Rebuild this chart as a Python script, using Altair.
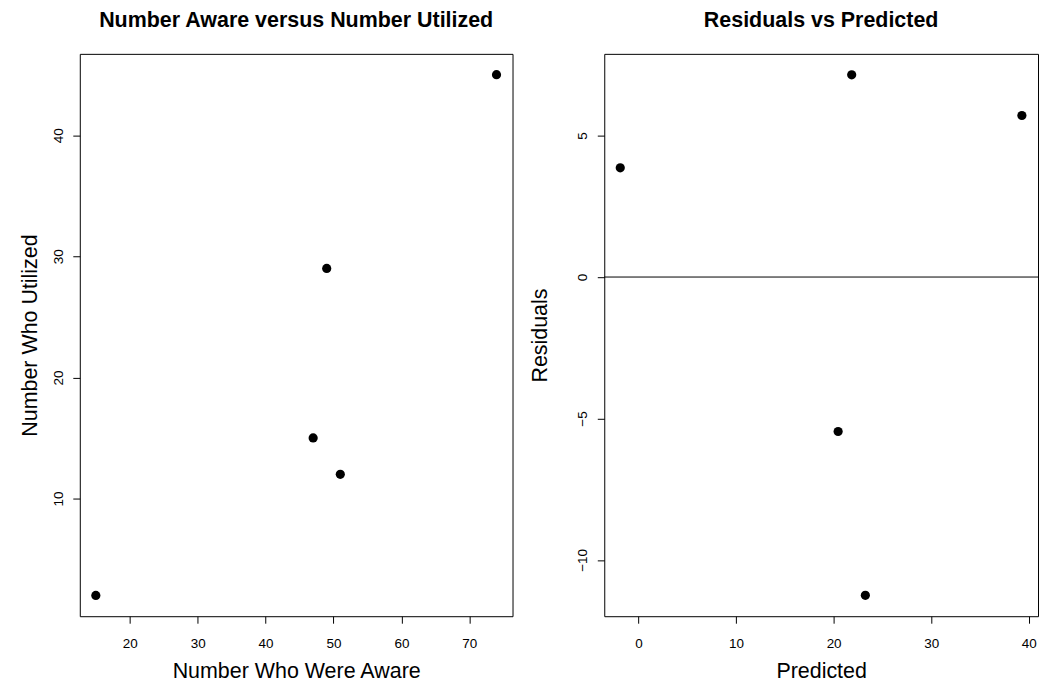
import altair as alt
import pandas as pd

# Left panel: awareness vs utilisation
aware = [15, 47, 49, 51, 74]
utilized = [2, 15, 29, 12, 45]

# Right panel: residuals vs predicted
predicted = [-1.86, 20.46, 21.85, 23.25, 39.29]
residuals = [3.86, -5.46, 7.15, -11.25, 5.71]

x1_ticks = [20, 30, 40, 50, 60, 70]
y1_ticks = [10, 20, 30, 40]
x2_ticks = [0, 10, 20, 30, 40]
y2_ticks = [-10, -5, 0, 5]

FONT = "Liberation Sans"

left_df = pd.DataFrame({"aware": aware, "utilized": utilized})
right_df = pd.DataFrame({"predicted": predicted, "residuals": residuals})
zero_df = pd.DataFrame({"y": [0]})


def x_axis(title, ticks):
    return alt.Axis(
        title=title, values=ticks, grid=False, domain=False,
        tickSize=7, tickColor="black", tickWidth=1,
        labelFont=FONT, labelFontSize=13.5, labelColor="black",
        labelPadding=13, labelFlush=False,
        titleFont=FONT, titleFontSize=21.5, titleFontWeight="normal",
        titleColor="black", titlePadding=11,
    )


def y_axis(title, ticks, title_pad, label_pad):
    return alt.Axis(
        title=title, values=ticks, grid=False, domain=False,
        tickSize=7, tickColor="black", tickWidth=1,
        labelFont=FONT, labelFontSize=13.5, labelColor="black",
        labelAngle=-90, labelAlign="center", labelBaseline="alphabetic",
        labelPadding=label_pad, labelFlush=False,
        titleFont=FONT, titleFontSize=21.5, titleFontWeight="normal",
        titleColor="black", titlePadding=title_pad,
    )


def panel_title(text):
    return alt.TitleParams(
        text=text, font=FONT, fontSize=21.5, fontWeight="bold", color="black",
        anchor="middle", frame="group", baseline="alphabetic", offset=5,
    )


left = alt.Chart(left_df).mark_circle(size=85, color="black", opacity=1).encode(
    x=alt.X("aware:Q", scale=alt.Scale(domain=[12.64, 76.36], nice=False, zero=False),
            axis=x_axis("Number Who Were Aware", x1_ticks)),
    y=alt.Y("utilized:Q", scale=alt.Scale(domain=[0.28, 46.72], nice=False, zero=False),
            axis=y_axis("Number Who Utilized", y1_ticks, 10, 10)),
).properties(width=434, height=564, title=panel_title("Number Aware versus Number Utilized"))

x2_scale = alt.Scale(domain=[-3.5, 40.94], nice=False, zero=False)
y2_scale = alt.Scale(domain=[-11.99, 7.89], nice=False, zero=False)

pts = alt.Chart(right_df).mark_circle(size=85, color="black", opacity=1).encode(
    x=alt.X("predicted:Q", scale=x2_scale, axis=x_axis("Predicted", x2_ticks)),
    y=alt.Y("residuals:Q", scale=y2_scale,
            axis=y_axis("Residuals", y2_ticks, 24, 11)),
)
hline = alt.Chart(zero_df).mark_rule(color="black", strokeWidth=1).encode(
    y=alt.Y("y:Q", scale=y2_scale),
)
right = alt.layer(hline, pts).properties(
    width=435, height=564, title=panel_title("Residuals vs Predicted")
)

chart = alt.hconcat(left, right, spacing=15).properties(
    padding={"left": 11, "top": 1, "right": 0, "bottom": 0},
    background="white",
).configure_view(stroke="black", strokeWidth=1)

chart.save("out.html", embed_options={"renderer": "svg", "actions": False})
